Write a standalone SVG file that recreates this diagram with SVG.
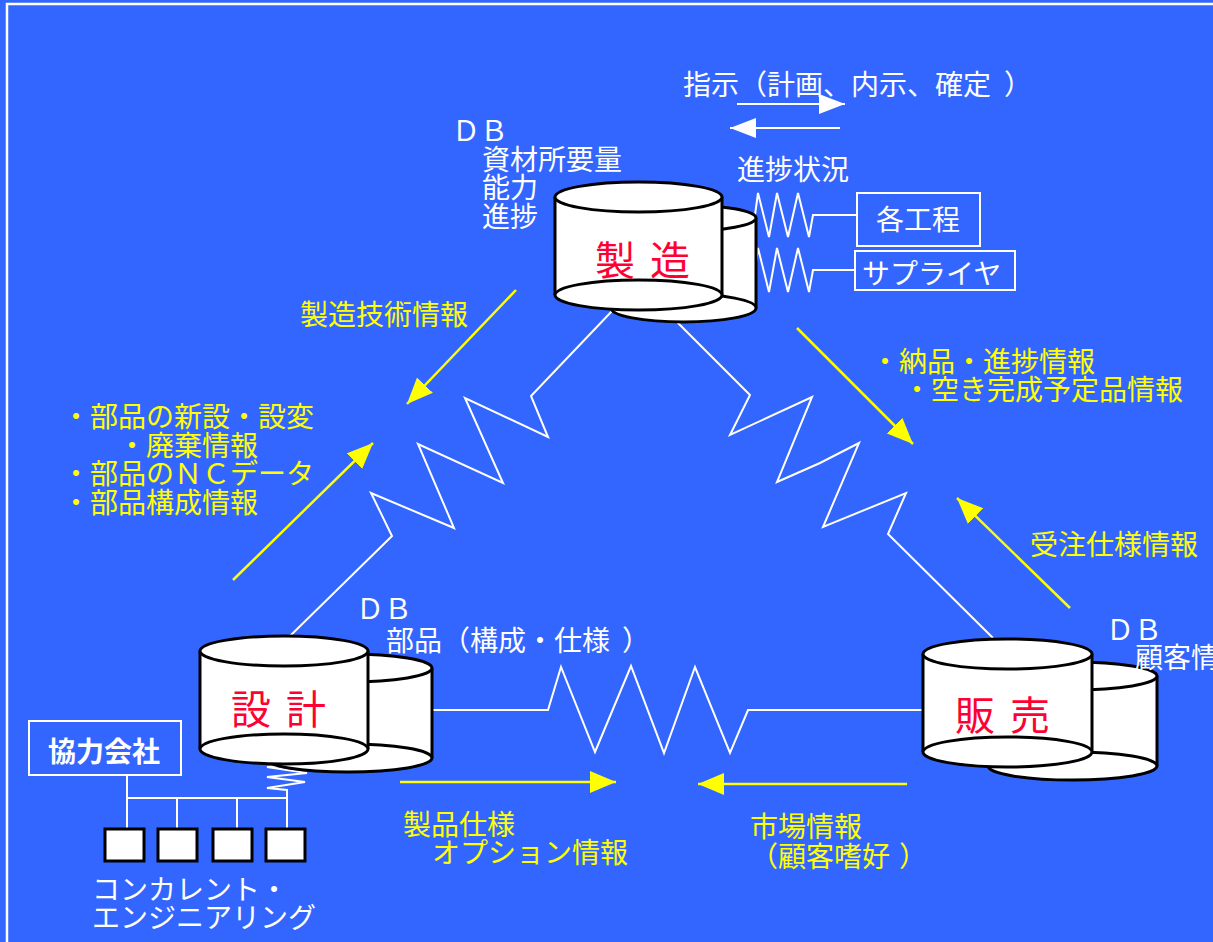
<svg xmlns="http://www.w3.org/2000/svg" width="1213" height="942" viewBox="0 0 1213 942">
<defs>
<style>
.t{font-family:'Noto Sans CJK JP','Noto Sans CJK SC',sans-serif;font-size:28px}
.w{fill:#ffffff}
.y{fill:#ffff00}
.r{fill:#ff0033;font-size:40px}
.cyl{fill:#ffffff;stroke:#000000;stroke-width:3}
.side{fill:#ffffff;stroke:none}
.edge{stroke:#000000;stroke-width:3}
.wl{fill:none;stroke:#ffffff;stroke-width:2}
.yl{fill:none;stroke:#ffff00;stroke-width:2.5}
.box{fill:none;stroke:#ffffff;stroke-width:2}
.sq{fill:#ffffff;stroke:#000000;stroke-width:3}
</style>
<marker id="ya" markerUnits="userSpaceOnUse" markerWidth="28" markerHeight="24" refX="26" refY="11" orient="auto">
<path d="M0,0 L26,11 L0,22 z" fill="#ffff00"/>
</marker>
<marker id="wa" markerUnits="userSpaceOnUse" markerWidth="28" markerHeight="24" refX="26" refY="10" orient="auto">
<path d="M0,0 L26,10 L0,20 z" fill="#ffffff"/>
</marker>
</defs>
<rect x="0" y="0" width="1213" height="942" fill="#3366ff"/>
<rect x="7" y="4" width="1240" height="960" fill="none" stroke="#ffffff" stroke-width="2.5"/>

<g id="connectors">
<polyline class="wl" points="613,310 531,396 548,437 465,398 503,483 418,444 454,528 371,493 392,536 290,636"/>
<polyline class="wl" points="677,322 750,395 730,435 812,397 777,482 820,463 859,443 823,527 906,493 888,534 993,638"/>
<polyline class="wl" points="432,710 548,710 561,667 595,752 631,666 664,753 695,667 730,753 748,710 923,710"/>
<polyline class="wl" points="755,215 758,193 769,237 777,193 788,237 798,193 809,237 813,215 857,215"/>
<polyline class="wl" points="755,270 758,248 769,292 777,248 788,292 798,248 809,292 813,270 855,270"/>
<polyline class="wl" points="287,798 287,790 267,788 305,782 267,777 307,773 267,767 297,765"/>
<polyline class="wl" points="127,775 127,830"/>
<polyline class="wl" points="127,798 287,798"/>
<polyline class="wl" points="177,798 177,830"/>
<polyline class="wl" points="237,798 237,830"/>
<polyline class="wl" points="287,798 287,830"/>
<line class="wl" x1="737" y1="104" x2="845" y2="104" marker-end="url(#wa)"/>
<line class="wl" x1="840" y1="128" x2="730" y2="128" marker-end="url(#wa)"/>
<line class="yl" x1="516" y1="290" x2="407" y2="404" marker-end="url(#ya)"/>
<line class="yl" x1="233" y1="580" x2="373" y2="443" marker-end="url(#ya)"/>
<line class="yl" x1="797" y1="328" x2="913" y2="444" marker-end="url(#ya)"/>
<line class="yl" x1="1070" y1="608" x2="957" y2="498" marker-end="url(#ya)"/>
<line class="yl" x1="400" y1="782" x2="616" y2="782" marker-end="url(#ya)"/>
<line class="yl" x1="907" y1="784" x2="698" y2="784" marker-end="url(#ya)"/>
</g>

<g id="seizo">
<rect class="side" x="611" y="218" width="145" height="90"/>
<line class="edge" x1="756" y1="218" x2="756" y2="308"/>
<ellipse class="cyl" cx="683.5" cy="308" rx="72.5" ry="14"/>
<ellipse class="cyl" cx="683.5" cy="218" rx="72.5" ry="13"/>
<rect class="side" x="555" y="197" width="167" height="98"/>
<line class="edge" x1="555" y1="197" x2="555" y2="295"/>
<line class="edge" x1="722" y1="197" x2="722" y2="295"/>
<ellipse class="cyl" cx="638.5" cy="295" rx="83.5" ry="15"/>
<ellipse class="cyl" cx="638.5" cy="197" rx="83.5" ry="15"/>
<text class="t r" x="595" y="275" letter-spacing="3" xml:space="preserve">製 造</text>
</g>

<g id="sekkei">
<rect class="side" x="264" y="668" width="168" height="90"/>
<line class="edge" x1="432" y1="668" x2="432" y2="758"/>
<ellipse class="cyl" cx="348" cy="758" rx="84" ry="14"/>
<ellipse class="cyl" cx="348" cy="668" rx="84" ry="14"/>
<rect class="side" x="200" y="651" width="168" height="98"/>
<line class="edge" x1="200" y1="651" x2="200" y2="749"/>
<line class="edge" x1="368" y1="651" x2="368" y2="749"/>
<ellipse class="cyl" cx="284" cy="749" rx="84" ry="15"/>
<ellipse class="cyl" cx="284" cy="651" rx="84" ry="15"/>
<text class="t r" x="231" y="724" letter-spacing="3" xml:space="preserve">設 計</text>
</g>

<g id="hanbai">
<rect class="side" x="988" y="676" width="169" height="90"/>
<line class="edge" x1="1157" y1="676" x2="1157" y2="766"/>
<ellipse class="cyl" cx="1072.5" cy="766" rx="84.5" ry="14"/>
<ellipse class="cyl" cx="1072.5" cy="676" rx="84.5" ry="14"/>
<rect class="side" x="923" y="654" width="169" height="98"/>
<line class="edge" x1="923" y1="654" x2="923" y2="752"/>
<line class="edge" x1="1092" y1="654" x2="1092" y2="752"/>
<ellipse class="cyl" cx="1007.5" cy="752" rx="84.5" ry="15"/>
<ellipse class="cyl" cx="1007.5" cy="654" rx="84.5" ry="15"/>
<text class="t r" x="955" y="730" letter-spacing="3" xml:space="preserve">販 売</text>
</g>

<g id="kakukotei">
<rect class="box" x="857" y="193" width="123" height="53"/>
<text class="t w" x="876" y="230">各工程</text>
</g>
<g id="supplier">
<rect class="box" x="855" y="251" width="160" height="39"/>
<text class="t w" x="862" y="284">サプライヤ</text>
</g>
<g id="kyoryoku">
<rect class="box" x="29" y="721" width="152" height="54"/>
<text class="t w" x="48" y="762" font-weight="bold">協力会社</text>
</g>
<g id="ce-boxes">
<rect class="sq" x="105" y="829" width="39" height="32"/>
<rect class="sq" x="158" y="829" width="39" height="32"/>
<rect class="sq" x="213" y="829" width="39" height="32"/>
<rect class="sq" x="266" y="829" width="39" height="32"/>
</g>

<g id="labels">
<text class="t w" x="683 711 739 767 795 823 851 879 907 935 963 1004" y="95">指示（計画、内示、確定）</text>
<text class="t w" x="737" y="180">進捗状況</text>
<text class="t w" x="452" y="141">ＤＢ</text>
<text class="t w" x="482" y="170">資材所要量</text>
<text class="t w" x="482" y="198">能力</text>
<text class="t w" x="482" y="227">進捗</text>
<text class="t w" x="356" y="619">ＤＢ</text>
<text class="t w" x="386 414 442 470 498 526 554 582 622" y="651">部品（構成・仕様）</text>
<text class="t w" x="1106" y="640">ＤＢ</text>
<text class="t w" x="1135" y="668">顧客情報</text>
<text class="t w" x="92" y="900">コンカレント・</text>
<text class="t w" x="92" y="928">エンジニアリング</text>
<text class="t y" x="300" y="325">製造技術情報</text>
<text class="t y" x="62" y="427">・部品の新設・設変</text>
<text class="t y" x="118" y="456">・廃棄情報</text>
<text class="t y" x="62" y="484">・部品のＮＣデータ</text>
<text class="t y" x="62" y="513">・部品構成情報</text>
<text class="t y" x="871" y="372">・納品・進捗情報</text>
<text class="t y" x="903" y="400">・空き完成予定品情報</text>
<text class="t y" x="1030" y="555">受注仕様情報</text>
<text class="t y" x="403" y="835">製品仕様</text>
<text class="t y" x="432" y="863">オプション情報</text>
<text class="t y" x="750" y="837">市場情報</text>
<text class="t y" x="750 778 806 834 862 899" y="867">（顧客嗜好）</text>
</g>
</svg>
